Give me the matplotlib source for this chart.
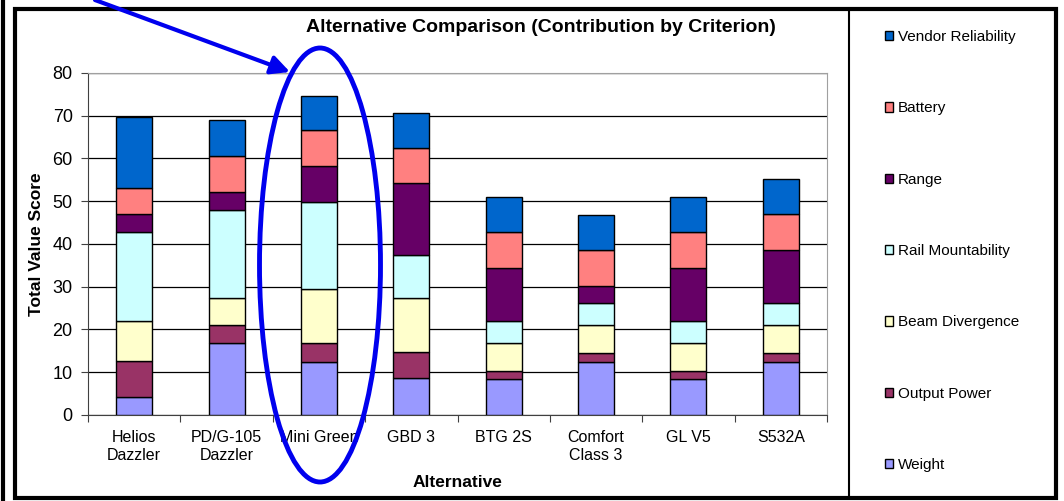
import numpy as np
import matplotlib
matplotlib.use('Agg')
from matplotlib import pyplot as plt
from matplotlib.patches import Ellipse, Rectangle

plt.rcParams['font.family'] = ['Liberation Sans', 'DejaVu Sans']

# datos
alternatives = ['Helios\nDazzler', 'PD/G-105\nDazzler', 'Mini Green', 'GBD 3',
                'BTG 2S', 'Comfort\nClass 3', 'GL V5', 'S532A']
weight = [4.3, 16.8, 12.5, 8.6, 8.5, 12.5, 8.5, 12.5]
output_power = [8.3, 4.3, 4.3, 6.1, 1.9, 2.1, 1.9, 2.1]
beam_divergence = [9.4, 6.2, 12.6, 12.6, 6.4, 6.4, 6.4, 6.4]
rail_mountability = [20.7, 20.7, 20.5, 10.1, 5.3, 5.1, 5.3, 5.1]
range_ = [4.3, 4.2, 8.4, 16.8, 12.3, 4.1, 12.3, 12.5]
battery = [6.0, 8.3, 8.3, 8.3, 8.4, 8.3, 8.4, 8.4]
vendor_reliability = [16.8, 8.4, 8.1, 8.1, 8.1, 8.3, 8.1, 8.1]

series = [('Weight', weight, '#9999FF'),
          ('Output Power', output_power, '#993366'),
          ('Beam Divergence', beam_divergence, '#FFFFCC'),
          ('Rail Mountability', rail_mountability, '#CCFFFF'),
          ('Range', range_, '#660066'),
          ('Battery', battery, '#FF8080'),
          ('Vendor Reliability', vendor_reliability, '#0066CC')]

fig = plt.figure(figsize=(10.64, 5.01), dpi=100)
ax = fig.add_axes([0.0827, 0.1717, 0.6946, 0.6826])

x = np.arange(len(alternatives))
bottom = np.zeros(len(alternatives))
handles = []
for name, vals, col in series:
    b = ax.bar(x, vals, 0.39, bottom=bottom, color=col, edgecolor='black',
               linewidth=1, label=name, zorder=3)
    handles.append(b)
    bottom += np.array(vals)

ax.set_xlim(-0.5, len(alternatives) - 0.5)
ax.set_ylim(0, 80)
ax.set_yticks(range(0, 81, 10))
ax.set_yticklabels([str(v) for v in range(0, 81, 10)], fontsize=13)
ax.yaxis.grid(True, color='black', linewidth=0.9, zorder=0)
ax.set_axisbelow(True)

# ticks del eje x entre categorías
ax.set_xticks(np.arange(-0.5, len(alternatives)), minor=False)
ax.set_xticklabels([])
ax.set_xticks(x, minor=True)
ax.set_xticklabels(alternatives, minor=True, fontsize=11.5)
ax.tick_params(axis='x', which='minor', length=0, pad=11)
ax.tick_params(axis='x', which='major', length=5, direction='out', color='#404040')
ax.tick_params(axis='y', length=5, direction='out', color='#404040', pad=6)

ax.spines['top'].set_color('#a0a0a0')
ax.spines['right'].set_color('#a0a0a0')
ax.spines['left'].set_color('#404040')
ax.spines['bottom'].set_color('#404040')

ax.set_ylabel('Total Value Score', fontsize=12.5, fontweight='bold', labelpad=6)
ax.set_xlabel('Alternative', fontsize=12.5, fontweight='bold', labelpad=9)
fig.text(0.508, 0.945, 'Alternative Comparison (Contribution by Criterion)',
         ha='center', va='center', fontsize=14, fontweight='bold')

leg = fig.legend(handles=handles[::-1], loc='upper left',
                 bbox_to_anchor=(0.826, 0.952), frameon=False, fontsize=11,
                 labelspacing=3.75, handlelength=0.55, handleheight=0.55,
                 handletextpad=0.3, borderaxespad=0)

# capa superior en píxeles: marco, flecha y elipse
ov = fig.add_axes([0, 0, 1, 1], zorder=10)
ov.set_xlim(0, 1064)
ov.set_ylim(501, 0)
ov.axis('off')
ov.patch.set_alpha(0)
ov.add_patch(Rectangle((15, 9), 1041, 489, fill=False, ec='black', lw=3))
ov.plot([849, 849], [9, 498], color='black', lw=1.5)
ov.plot([3, 3], [0, 501], color='black', lw=3)
ov.annotate('', xy=(290, 72), xytext=(95, 0),
            arrowprops=dict(arrowstyle='-|>', color='#0000EE', lw=3,
                            mutation_scale=28, shrinkA=0, shrinkB=0))
ov.add_patch(Ellipse((320, 265), 121, 434, fill=False, ec='#0000EE', lw=3.5))

fig.savefig('out.png', dpi=100)
